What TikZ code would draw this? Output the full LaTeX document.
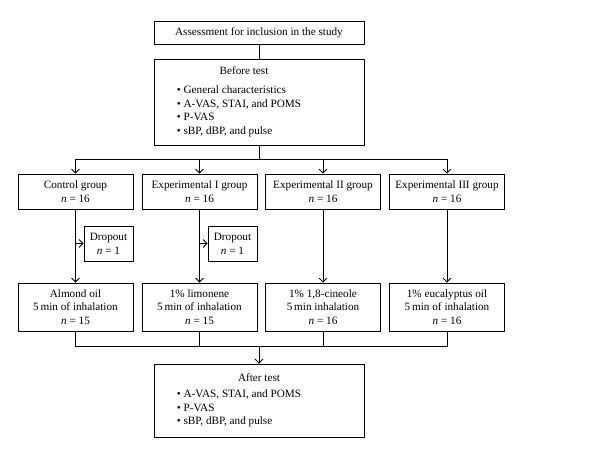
\documentclass[tikz,border=0pt]{standalone}
\usepackage{fontspec}
\setmainfont{Liberation Serif}
\usetikzlibrary{positioning,arrows.meta}

\begin{document}
\begin{tikzpicture}[
    x=1pt, y=-1pt,
    line width=0.8pt,
    font=\fontsize{11.2}{13.7}\selectfont,
    mbox/.style={
        draw,
        align=center,
        inner sep=2pt,
        minimum width=210pt
        },
    gbox/.style={
        draw,
        align=center,
        inner sep=1pt,
        minimum width=115pt,
        minimum height=35pt
        },
    obox/.style={gbox, minimum height=48pt},
    dbox/.style={gbox, minimum width=49pt},
    arr/.style={-{Straight Barb[length=4pt,width=8pt]}},
]

\useasboundingbox (0,0) rectangle (600,458);

\node[mbox, minimum height=23pt](assess) at (259,32.5){Assessment for inclusion in the study};
\node[mbox, minimum height=86pt](before) at (259,102){%
    \begin{tabular}{@{}l@{\hspace{40pt}}}
    \multicolumn{1}{@{}c@{\hspace{30pt}}}{Before test}\\[5pt]
    \textbullet\ General characteristics\\
    \textbullet\ A-VAS, STAI, and POMS\\
    \textbullet\ P-VAS\\
    \textbullet\ sBP, dBP, and pulse
    \end{tabular}};

\node[gbox](ctrl) at (75.5,191.5){Control group\\\textit{n} = 16};
\node[gbox](expa) at (199.5,191.5){Experimental I group\\\textit{n} = 16};
\node[gbox](expb) at (323,191.5){Experimental II group\\\textit{n} = 16};
\node[gbox](expc) at (447,191.5){Experimental III group\\\textit{n} = 16};

\node[dbox](dropa) at (108.5,243.5){Dropout\\\textit{n} = 1};
\node[dbox](dropb) at (232.5,243.5){Dropout\\\textit{n} = 1};

\node[obox](almond) at (75.5,307){Almond oil\\5\,min of inhalation\\\textit{n} = 15};
\node[obox](limon) at (199.5,307){1\% limonene\\5\,min of inhalation\\\textit{n} = 15};
\node[obox](cineol) at (323,307){1\% 1,8-cineole\\5\,min inhalation\\\textit{n} = 16};
\node[obox](eucal) at (447,307){1\% eucalyptus oil\\5\,min of inhalation\\\textit{n} = 16};

\node[mbox, minimum height=73pt](after) at (259,400.5){%
    \begin{tabular}{@{}l@{\hspace{40pt}}}
    \multicolumn{1}{@{}c@{}}{After test}\\[2pt]
    \textbullet\ A-VAS, STAI, and POMS\\
    \textbullet\ P-VAS\\
    \textbullet\ sBP, dBP, and pulse
    \end{tabular}};

\coordinate (split) at (259,159);
\coordinate (merge) at (259,346);

\draw (assess) -- (before);
\draw (before) -- (split);
\draw (ctrl.north |- split) -- (expc.north |- split);
\draw[arr] (ctrl.north |- split) -- (ctrl);
\draw[arr] (expa.north |- split) -- (expa);
\draw[arr] (expb.north |- split) -- (expb);
\draw[arr] (expc.north |- split) -- (expc);

\draw[arr] (ctrl) -- (almond);
\draw[arr] (expa) -- (limon);
\draw[arr] (expb) -- (cineol);
\draw[arr] (expc) -- (eucal);
\draw[arr] (ctrl.south |- dropa.west) -- (dropa.west);
\draw[arr] (expa.south |- dropb.west) -- (dropb.west);

\draw (almond) -- (almond.south |- merge) -- (eucal.south |- merge) -- (eucal);
\draw (limon) -- (limon.south |- merge);
\draw (cineol) -- (cineol.south |- merge);
\draw[arr] (merge) -- (after);

\end{tikzpicture}
\end{document}
